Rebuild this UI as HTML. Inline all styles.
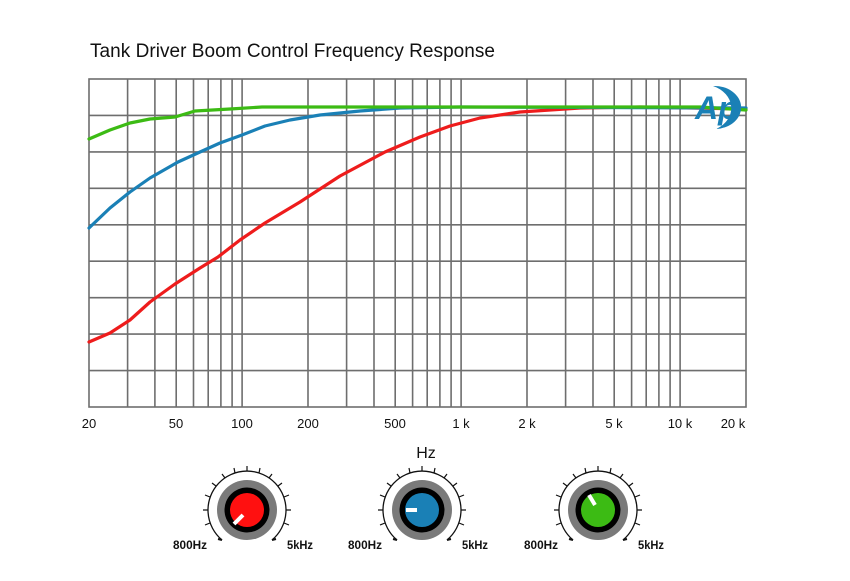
<!DOCTYPE html>
<html><head><meta charset="utf-8"><style>body{margin:0;background:#fff}svg{display:block}</style></head><body>
<svg width="850" height="581" viewBox="0 0 850 581" xmlns="http://www.w3.org/2000/svg" font-family="Liberation Sans, sans-serif">
<rect width="850" height="581" fill="#fff"/>
<text x="90" y="57" font-size="19" fill="#111" textLength="405">Tank Driver Boom Control Frequency Response</text>
<g stroke="#6e6e6e" stroke-width="1.6" fill="none">
<rect x="89" y="79" width="657" height="328"/>
<path d="M89 115.4H746M89 151.9H746M89 188.3H746M89 224.8H746M89 261.2H746M89 297.7H746M89 334.1H746M89 370.6H746"/>
<path d="M127.6 79V407M154.9 79V407M176.2 79V407M193.5 79V407M208.2 79V407M220.9 79V407M232.1 79V407M242.1 79V407M308 79V407M346.6 79V407M374 79V407M395.2 79V407M412.6 79V407M427.2 79V407M439.9 79V407M451.1 79V407M461.1 79V407M527 79V407M565.6 79V407M593 79V407M614.2 79V407M631.6 79V407M646.2 79V407M658.9 79V407M670.1 79V407M680.1 79V407"/>
</g>
<g font-size="13" fill="#111" text-anchor="middle">
<text x="89" y="428">20</text><text x="176" y="428">50</text><text x="242" y="428">100</text><text x="308" y="428">200</text><text x="395" y="428">500</text><text x="461" y="428">1 k</text><text x="527" y="428">2 k</text><text x="614" y="428">5 k</text><text x="680" y="428">10 k</text><text x="733" y="428">20 k</text>
<text x="426" y="458" font-size="16">Hz</text>
</g>
<g fill="none" stroke-width="3.2" stroke-linejoin="round" stroke-linecap="round">
<polyline stroke="#ee1c1c" points="89,342 110,333 130,320 150,302 175,284 200,268 218,257 240,240 265,223 300,202 340,176 385,152 420,137 450,126 480,118 520,112 580,108 640,107 746,109"/>
<polyline stroke="#1a80b6" points="89,228 110,208 130,192 150,178 178,162 200,152 220,143 242,135 265,126 290,120 320,115 360,111 400,108 460,107 746,108"/>
<polyline stroke="#3cbb14" points="89,139 110,130 130,123 150,119 175,117 195,111 230,109 262,107 700,107 746,110"/>
</g>
<g fill="#1a80b6">
<text x="695" y="119" font-size="32" font-style="italic" font-weight="bold" fill="#1a80b6">Ap</text>
<path d="M713 86 A30 24 0 0 1 716 129 A26 21 0 0 0 713 86Z"/>
</g>
<defs>
<g id="ticks">
<g stroke="#111" stroke-width="1.3" fill="none">
<path d="M-25 30 A39 39 0 1 1 25 30"/>
<path d="M-25 30l-4 -1M25 30l4 -1" stroke-width="2"/>
</g>
<g stroke="#111" stroke-width="1.2"><path d="M-37 13l-5 2M-39 0h-5M-37 -13l-5 -2M-31 -24l-4 -3M-22 -32l-3 -4M-12 -37l-1 -5M0 -39v-5M12 -37l1 -5M22 -32l3 -4M31 -24l4 -3M37 -13l5 -2M39 0h5M37 13l5 2"/></g>
<circle r="30" fill="#7a7a7a"/><circle r="22.5" fill="#000"/>
</g>
</defs>
<g transform="translate(247,510)">
<use href="#ticks"/><circle r="17" fill="#ff1010"/>
<line x1="-4" y1="5" x2="-13" y2="14" stroke="#fff" stroke-width="4"/>
</g>
<g transform="translate(422,510)">
<use href="#ticks"/><circle r="17" fill="#1a80b6"/>
<line x1="-5" y1="0" x2="-16" y2="0" stroke="#fff" stroke-width="4"/>
</g>
<g transform="translate(598,510)">
<use href="#ticks"/><circle r="17" fill="#3cbb14"/>
<line x1="-3" y1="-5" x2="-9" y2="-15" stroke="#fff" stroke-width="4"/>
</g>
<g font-size="11.5" font-weight="bold" fill="#111">
<text x="173" y="549" textLength="34" lengthAdjust="spacingAndGlyphs">800Hz</text><text x="287" y="549" textLength="26" lengthAdjust="spacingAndGlyphs">5kHz</text>
<text x="348" y="549" textLength="34" lengthAdjust="spacingAndGlyphs">800Hz</text><text x="462" y="549" textLength="26" lengthAdjust="spacingAndGlyphs">5kHz</text>
<text x="524" y="549" textLength="34" lengthAdjust="spacingAndGlyphs">800Hz</text><text x="638" y="549" textLength="26" lengthAdjust="spacingAndGlyphs">5kHz</text>
</g>
</svg>
</body></html>
